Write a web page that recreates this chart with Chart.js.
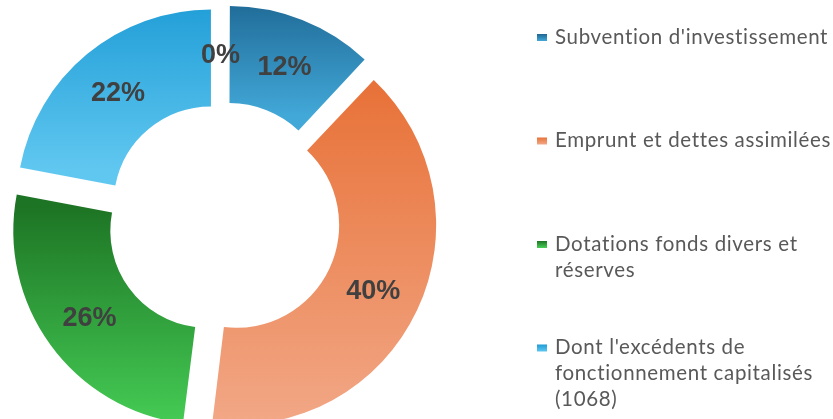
<!DOCTYPE html>
<html><head><meta charset="utf-8">
<script src="https://cdn.jsdelivr.net/npm/chart.js@4"></script>
<style>
html,body{margin:0;padding:0;background:#fff;overflow:hidden;width:833px;height:419px;}
#wrap{position:absolute;left:0;top:0;width:833px;height:438px;}
</style></head>
<body>
<div id="wrap"><canvas id="c"></canvas></div>
<script>
const categories = [
  "Subvention d'investissement",
  "Emprunt et dettes assimilées",
  "Dotations fonds divers et réserves",
  "Dont l'excédents de fonctionnement capitalisés (1068)",
  ""
];
const values = [12, 40, 26, 22, 0];
const topColors = ["#1d6692", "#e8733a", "#1d7424", "#1e9cd6"];
const bottomColors = ["#42a8d8", "#f2a887", "#47d057", "#60c7f0"];

const EXPLODE = 20;      // px translation of each slice
const RADIUS = 194;

function sliceAngles(i) {
  const total = values.reduce((a, b) => a + b, 0);
  let cum = 0;
  for (let k = 0; k < i; k++) cum += values[k];
  const s = -Math.PI / 2 + cum / total * 2 * Math.PI;
  const e = s + values[i] / total * 2 * Math.PI;
  return [s, e];
}

function bgColor(ctx) {
  const chart = ctx.chart;
  const i = ctx.dataIndex;
  const area = chart.chartArea;
  if (!area || i >= topColors.length) return "#cccccc";
  const cx = (area.left + area.right) / 2, cy = (area.top + area.bottom) / 2;
  const [s, e] = sliceAngles(i);
  const mid = (s + e) / 2;
  const dy = Math.sin(mid) * EXPLODE;
  let ymin = Infinity, ymax = -Infinity;
  for (let t = 0; t <= 40; t++) {
    const a = s + (e - s) * t / 40;
    for (const r of [RADIUS, RADIUS / 2]) {
      const y = cy + r * Math.sin(a) + dy;
      ymin = Math.min(ymin, y); ymax = Math.max(ymax, y);
    }
  }
  const g = chart.ctx.createLinearGradient(0, ymin, 0, ymax);
  g.addColorStop(0, topColors[i]);
  g.addColorStop(1, bottomColors[i]);
  return g;
}

function offsetFor(ctx) {
  const [s, e] = sliceAngles(ctx.dataIndex);
  const circ = e - s;
  const fix = 1 - Math.sin(Math.min(Math.PI, circ));
  return EXPLODE * 4 / (1 + fix);
}

const labelPlugin = {
  id: 'pctLabels',
  afterDatasetsDraw(chart) {
    const meta = chart.getDatasetMeta(0);
    const c = chart.ctx;
    const total = values.reduce((a, b) => a + b, 0);
    c.save();
    c.font = "bold 27px 'Liberation Sans', Arial, sans-serif";
    c.fillStyle = "#404040";
    c.textAlign = "center";
    c.textBaseline = "middle";
    meta.data.forEach((arc, i) => {
      const p = arc.getProps(['x', 'y', 'startAngle', 'endAngle', 'innerRadius', 'outerRadius'], true);
      const mid = (p.startAngle + p.endAngle) / 2;
      const r = (p.innerRadius + p.outerRadius) / 2 + EXPLODE;
      const x = p.x + Math.cos(mid) * r;
      const y = p.y + Math.sin(mid) * r;
      c.fillText(Math.round(values[i] / total * 100) + "%", x - (values[i] === 0 ? 3 : 0), y + 2);
    });
    c.restore();
  }
};

function wrapText(c, text, maxW) {
  const words = text.split(" ");
  const lines = [];
  let cur = "";
  for (const w of words) {
    const test = cur ? cur + " " + w : w;
    if (c.measureText(test).width > maxW && cur) { lines.push(cur); cur = w; }
    else cur = test;
  }
  if (cur) lines.push(cur);
  return lines;
}

const legendPlugin = {
  id: 'sideLegend',
  afterDraw(chart) {
    const c = chart.ctx;
    c.save();
    c.font = "20.5px Lato, 'Open Sans', sans-serif";
    try { c.letterSpacing = "0.65px"; } catch (e) {}
    c.textBaseline = "middle";
    c.textAlign = "left";
    const x0 = 555, y0 = 37, step = 103.5, lh = 26;
    categories.forEach((cat, i) => {
      if (!cat) return;
      const y = y0 + i * step;
      const g = c.createLinearGradient(0, y - 3, 0, y + 4);
      g.addColorStop(0, topColors[i]);
      g.addColorStop(1, bottomColors[i]);
      c.fillStyle = g;
      c.fillRect(537, y - 3, 10, 7);
      c.fillStyle = "#595959";
      const lines = wrapText(c, cat, 285);
      lines.forEach((ln, k) => c.fillText(ln, x0, y + k * lh));
    });
    c.restore();
  }
};

const chart = new Chart(document.getElementById('c'), {
  type: 'doughnut',
  data: {
    labels: categories,
    datasets: [{
      data: values,
      backgroundColor: bgColor,
      borderWidth: 0,
      offset: offsetFor,
      hoverOffset: 0
    }]
  },
  options: {
    responsive: true,
    maintainAspectRatio: false,
    animation: false,
    cutout: '50%',
    radius: RADIUS,
    layout: { padding: { left: 0, top: 0, bottom: 0, right: 386 } },
    plugins: { legend: { display: false }, tooltip: { enabled: false } },
    events: []
  },
  plugins: [labelPlugin, legendPlugin]
});
chart.update();
</script>
</body></html>
